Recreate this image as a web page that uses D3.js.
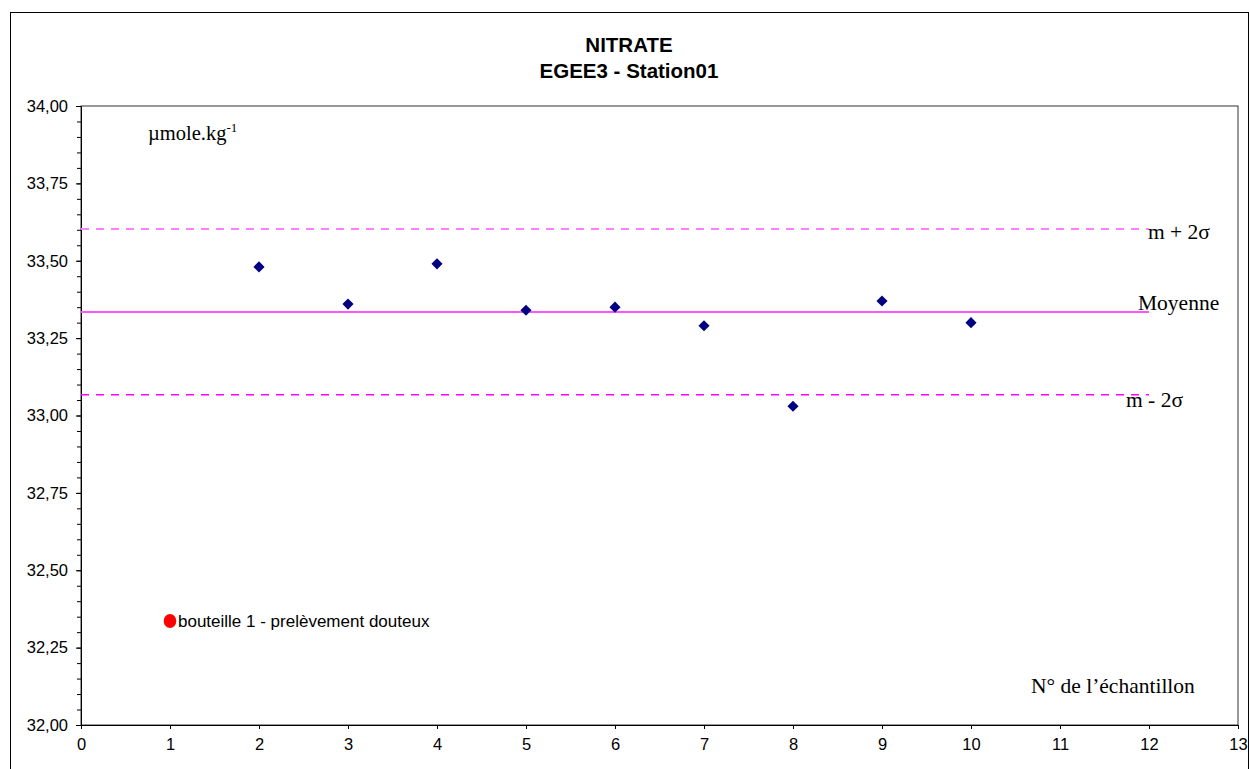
<!DOCTYPE html>
<html>
<head>
<meta charset="utf-8">
<script src="https://cdn.jsdelivr.net/npm/d3@7"></script>
<style>
  html, body { margin: 0; padding: 0; background: #ffffff; }
  svg { display: block; }
</style>
</head>
<body>
<div id="chart"></div>
<script>
// Nitrate replicate samples, EGEE3 station 01 (µmol/kg)
const sampleIds = [2, 3, 4, 5, 6, 7, 8, 9, 10];
const nitrateValues = [33.48, 33.36, 33.49, 33.34, 33.35, 33.29, 33.03, 33.37, 33.30];

// Suspect bottle, excluded from the statistics
const suspectIds = [1];
const suspectValues = [32.336];

const xTicks = [0, 1, 2, 3, 4, 5, 6, 7, 8, 9, 10, 11, 12, 13];
const yTicks = [32.00, 32.25, 32.50, 32.75, 33.00, 33.25, 33.50, 33.75, 34.00];
const yMinorTicks = d3.range(32, 34.0001, 0.05);

const titleLines = ["NITRATE", "EGEE3 - Station01"];

const W = 1250, H = 769;
const plot = { left: 81, right: 1238, top: 106, bottom: 725 };
const sans = "'Liberation Sans', Arial, sans-serif";
const serif = "'Liberation Serif', 'Times New Roman', serif";

const svg = d3.select("#chart").append("svg")
  .attr("width", W).attr("height", H);

svg.append("rect").attr("width", W).attr("height", H).attr("fill", "#fff");

// outer chart frame
svg.append("rect")
  .attr("x", 10.5).attr("y", 12.5)
  .attr("width", 1248 - 10).attr("height", 790)
  .attr("fill", "none").attr("stroke", "#000").attr("stroke-width", 1);

const x = d3.scaleLinear().domain([0, 13]).range([plot.left, plot.right]);
const y = d3.scaleLinear().domain([32, 34]).range([plot.bottom, plot.top]);

const fmt = v => d3.format(".2f")(v).replace(".", ",");

// plot area box
svg.append("rect")
  .attr("x", plot.left).attr("y", plot.top)
  .attr("width", plot.right - plot.left).attr("height", plot.bottom - plot.top)
  .attr("fill", "none").attr("stroke", "#333").attr("stroke-width", 1);

// y axis: minor ticks then labelled major ticks
svg.append("g")
  .attr("transform", `translate(${plot.left},0)`)
  .call(d3.axisLeft(y).tickValues(yMinorTicks).tickSize(4).tickFormat(""))
  .call(g => g.select(".domain").remove());

svg.append("g")
  .attr("transform", `translate(${plot.left},0)`)
  .call(d3.axisLeft(y).tickValues(yTicks).tickSize(5).tickPadding(8).tickFormat(fmt))
  .call(g => g.select(".domain").attr("stroke", "#000"))
  .call(g => g.selectAll("text").attr("font-family", sans).attr("font-size", 16.5).attr("fill", "#000"));

// x axis
svg.append("g")
  .attr("transform", `translate(0,${plot.bottom})`)
  .call(d3.axisBottom(x).tickValues(xTicks).tickSize(4).tickPadding(9).tickFormat(d3.format("d")))
  .call(g => g.select(".domain").attr("stroke", "#000"))
  .call(g => g.selectAll("text").attr("font-family", sans).attr("font-size", 16.5).attr("fill", "#000"));

// mean and ±2σ reference lines over samples 0..12
const mean = d3.mean(nitrateValues);
const sd = d3.deviation(nitrateValues);
const refLines = [
  { v: mean + 2 * sd, color: "#ff80ff", width: 2, dash: "8,7" },
  { v: mean,          color: "#ff55ff", width: 2, dash: null },
  { v: mean - 2 * sd, color: "#ff00ff", width: 1.5, dash: "8,7" }
];
svg.append("g").selectAll("line").data(refLines).join("line")
  .attr("x1", x(0)).attr("x2", x(12))
  .attr("y1", d => y(d.v)).attr("y2", d => y(d.v))
  .attr("stroke", d => d.color)
  .attr("stroke-width", d => d.width)
  .attr("stroke-dasharray", d => d.dash);

// reference line labels
const refLabel = svg.append("g").attr("font-family", serif).attr("font-size", 21.5).attr("fill", "#000");
refLabel.append("text").attr("x", 1148).attr("y", y(mean + 2 * sd) + 10).text("m + 2σ");
refLabel.append("text").attr("x", 1138).attr("y", y(mean) - 2).text("Moyenne");
refLabel.append("text").attr("x", 1126).attr("y", y(mean - 2 * sd) + 12).text("m - 2σ");

// samples
const diamond = d3.symbol().type(d3.symbolSquare).size(62);
svg.append("g").selectAll("path")
  .data(sampleIds.map((id, i) => ({ id, v: nitrateValues[i] })))
  .join("path")
  .attr("d", diamond)
  .attr("transform", d => `translate(${x(d.id)},${y(d.v)}) rotate(45)`)
  .attr("fill", "#000080");

// suspect bottle
svg.append("g").selectAll("ellipse")
  .data(suspectIds.map((id, i) => ({ id, v: suspectValues[i] })))
  .join("ellipse")
  .attr("cx", d => x(d.id)).attr("cy", d => y(d.v))
  .attr("rx", 6.3).attr("ry", 7)
  .attr("fill", "#ff0000");

svg.append("text")
  .attr("x", x(suspectIds[0]) + 8).attr("y", y(suspectValues[0]) + 5.5)
  .attr("font-family", sans).attr("font-size", 17).attr("fill", "#000")
  .text("bouteille 1 - prelèvement douteux");

// title
const title = svg.append("text")
  .attr("text-anchor", "middle").attr("font-family", sans)
  .attr("font-size", 20.5).attr("font-weight", "bold").attr("fill", "#000");
titleLines.forEach((t, i) => {
  title.append("tspan").attr("x", 629).attr("y", 52 + i * 26).text(t);
});

// unit label
const unit = svg.append("text")
  .attr("x", 148).attr("y", 140)
  .attr("font-family", serif).attr("font-size", 20.5).attr("fill", "#000");
unit.append("tspan").text("µmole.kg");
unit.append("tspan").attr("font-size", 13).attr("dy", -8).text("-1");

// x axis caption
svg.append("text")
  .attr("x", 1031).attr("y", 693)
  .attr("font-family", serif).attr("font-size", 21.5).attr("fill", "#000")
  .text("N° de l’échantillon");
</script>
</body>
</html>
